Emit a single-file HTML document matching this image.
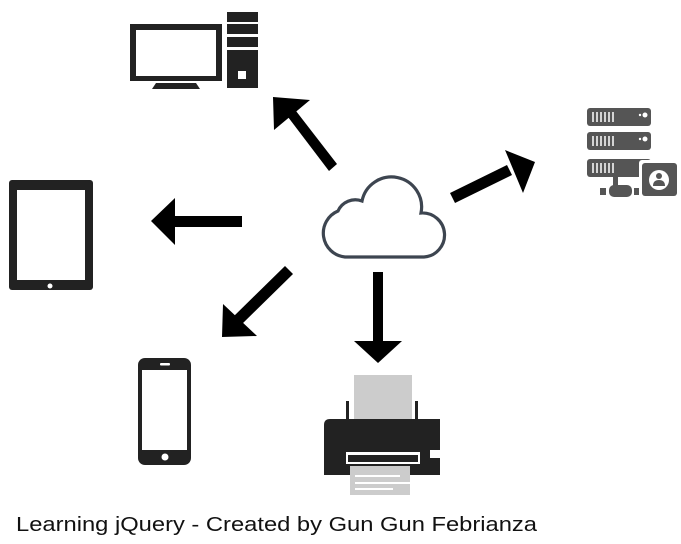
<!DOCTYPE html>
<html><head><style>html,body{margin:0;padding:0;background:#fff;width:681px;height:544px;overflow:hidden}</style></head>
<body>
<svg width="681" height="544" viewBox="0 0 681 544" xmlns="http://www.w3.org/2000/svg">
<!-- monitor -->
<rect x="130" y="24" width="92" height="57" fill="#222"/>
<rect x="136" y="30" width="80" height="46" fill="#fff"/>
<path d="M156,83 H196 L200,89 H152 Z" fill="#222"/>
<rect x="227" y="12" width="31" height="10" fill="#222"/>
<rect x="227" y="24" width="31" height="10" fill="#222"/>
<rect x="227" y="37" width="31" height="10" fill="#222"/>
<rect x="227" y="50" width="31" height="38" fill="#222"/>
<rect x="238" y="71" width="8" height="8" fill="#fff"/>
<!-- server -->
<g fill="#555">
<rect x="587" y="108" width="64" height="18" rx="3"/>
<rect x="587" y="132" width="64" height="18" rx="3"/>
<rect x="587" y="159" width="64" height="18" rx="3"/>
<rect x="613" y="176" width="5" height="12"/>
<rect x="600" y="188" width="6" height="7"/>
<rect x="609" y="185" width="23" height="12" rx="5"/>
<rect x="634" y="188" width="6" height="7"/>
</g>
<g stroke="#fff" stroke-width="1.5">
<path d="M593,112v10M597,112v10M601,112v10M605,112v10M609,112v10M613,112v10"/>
<path d="M593,136v10M597,136v10M601,136v10M605,136v10M609,136v10M613,136v10"/>
<path d="M593,163v10M597,163v10M601,163v10M605,163v10M609,163v10M613,163v10"/>
</g>
<circle cx="645" cy="115" r="2.5" fill="#fff"/><circle cx="640" cy="115" r="1.2" fill="#fff"/>
<circle cx="645" cy="139" r="2.5" fill="#fff"/><circle cx="640" cy="139" r="1.2" fill="#fff"/>
<rect x="639" y="160" width="40" height="38" rx="3" fill="#fff"/>
<rect x="642" y="163" width="35" height="33" rx="3" fill="#555"/>
<circle cx="659" cy="180" r="10" fill="#fff"/>
<circle cx="659" cy="176" r="3" fill="#555"/>
<path d="M653,186 Q653,180 659,180 Q665,180 665,186 Z" fill="#555"/>
<!-- tablet -->
<rect x="9" y="180" width="84" height="110" rx="3" fill="#222"/>
<rect x="17" y="190" width="68" height="90" fill="#fff"/>
<circle cx="50" cy="286" r="2.5" fill="#fff"/>
<!-- phone -->
<rect x="138" y="358" width="53" height="107" rx="7" fill="#222"/>
<rect x="142" y="370" width="45" height="80" fill="#fff"/>
<rect x="160" y="363" width="10" height="2.5" rx="1" fill="#fff"/>
<circle cx="165" cy="457" r="3.5" fill="#fff"/>
<!-- printer -->
<rect x="354" y="375" width="58" height="47" fill="#ccc"/>
<rect x="346" y="401" width="3" height="20" fill="#222"/>
<rect x="415" y="401" width="3" height="20" fill="#222"/>
<path d="M330,419 H440 V475 H324 V425 Q324,419 330,419 Z" fill="#222"/>
<rect x="430" y="450" width="11" height="8" fill="#fff"/>
<rect x="346" y="452" width="74" height="12" fill="#fff"/>
<rect x="348" y="455" width="70" height="7" fill="#222"/>
<rect x="350" y="466" width="60" height="29" fill="#ccc"/>
<path d="M355,476 H400 M355,483 H410 M355,489 H393" stroke="#fff" stroke-width="2"/>
<!-- cloud -->
<path d="M345,257 A24,24 0 0 1 338,211 A19,19 0 0 1 362,201 A29,29 0 0 1 421,213 A22,22 0 0 1 424,257 Z" fill="none" stroke="#3d4550" stroke-width="3.2"/>
<!-- arrows -->
<g fill="#000">
<path d="M337,164 L329,171 L288,117 L296,111 Z"/>
<path d="M273,97 L310,100 L274,130 Z"/>
<rect x="173" y="216" width="69" height="11"/>
<path d="M151,221 L175,198 L175,245 Z"/>
<path d="M285,266 L293,274 L241,325 L233,317 Z"/>
<path d="M222,337 L223,304 L257,336 Z"/>
<rect x="373" y="272" width="10" height="73"/>
<path d="M378,363 L354,341 L402,341 Z"/>
<path d="M450,193 L455,203 L512,175 L507,165 Z"/>
<path d="M535,162 L505,150 L523,193 Z"/>
</g>
<text x="16" y="531" font-family="Liberation Sans, sans-serif" font-size="20" fill="#111" textLength="521" lengthAdjust="spacingAndGlyphs">Learning jQuery - Created by Gun Gun Febrianza</text>
</svg>
</body></html>
